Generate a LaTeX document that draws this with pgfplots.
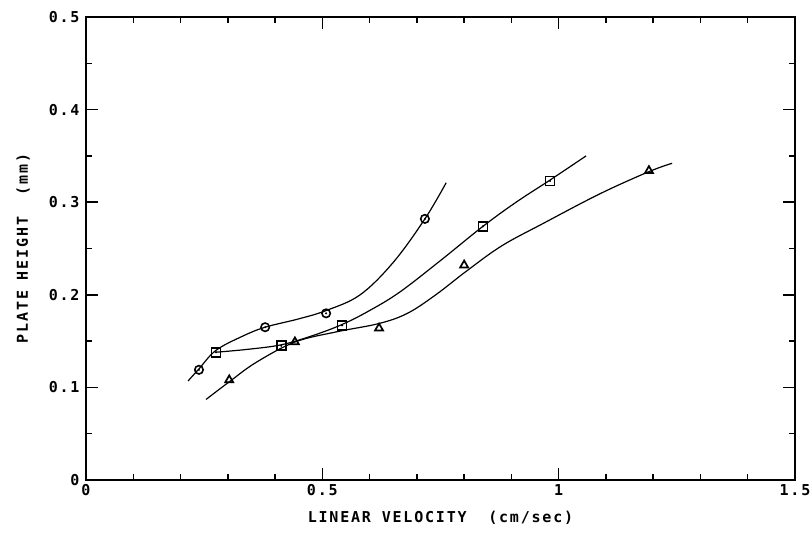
\documentclass[border=0pt]{standalone}
\usepackage{pgfplots}
\pgfplotsset{compat=1.18}
\usepackage{fontspec}
\setmainfont{DejaVu Sans Mono}[LetterSpace=12]
\begin{document}
\begin{tikzpicture}
\begin{axis}[
  name=ax,
  scale only axis,
  width=709pt, height=463pt,
  xmin=0, xmax=1.5, ymin=0, ymax=0.5,
  xtick={0,0.5,1,1.5}, ytick={0,0.1,0.2,0.3,0.4,0.5},
  xticklabels={0,0.5,1,1.5},
  yticklabels={0,0.1,0.2,0.3,0.4,0.5},
  minor x tick num=4, minor y tick num=1,
  tick align=inside,
  major tick length=12pt, minor tick length=6pt,
  tick style={black, line width=1.5pt},
  axis line style={line width=2pt},
  every tick label/.append style={font=\fontsize{15}{17}\bfseries},
  xticklabel style={yshift=-1pt},
  yticklabel style={xshift=-3pt},
  xlabel={LINEAR VELOCITY\ \ (cm/sec)},
  ylabel={PLATE HEIGHT\ \ (mm)},
  label style={font=\fontsize{15}{17}\bfseries},
  xlabel style={yshift=-8pt},
  ylabel style={yshift=12pt},
  clip=false,
]
% fitted curves
\addplot[black, line width=1.2pt, smooth, tension=0.6] coordinates {
(0.216,0.107)(0.239,0.120)(0.275,0.140)(0.33,0.155)(0.379,0.165)(0.45,0.174)(0.508,0.183)(0.58,0.200)(0.65,0.235)(0.717,0.282)(0.762,0.321)};
\addplot[black, line width=1.2pt, smooth, tension=0.6] coordinates {
(0.275,0.138)(0.34,0.141)(0.413,0.146)(0.48,0.156)(0.542,0.168)(0.60,0.183)(0.664,0.203)(0.75,0.237)(0.84,0.274)(0.91,0.300)(0.982,0.324)(1.058,0.350)};
\addplot[black, line width=1.2pt, smooth, tension=0.6] coordinates {
(0.254,0.087)(0.303,0.106)(0.36,0.127)(0.442,0.149)(0.53,0.160)(0.62,0.169)(0.68,0.180)(0.74,0.200)(0.806,0.226)(0.88,0.253)(0.967,0.277)(1.087,0.309)(1.191,0.333)(1.240,0.342)};
% data points
\addplot[only marks, mark=o, mark size=4.2pt, mark options={line width=1.6pt, fill=white}] coordinates {
(0.239,0.119)(0.379,0.165)(0.508,0.180)(0.717,0.282)};
\addplot[only marks, mark=*, mark size=0.8pt] coordinates {
(0.239,0.119)(0.379,0.165)(0.508,0.180)(0.717,0.282)};
\addplot[only marks, mark=square, mark size=4.5pt, mark options={line width=1.6pt, fill=white}] coordinates {
(0.275,0.138)(0.413,0.145)(0.542,0.167)(0.840,0.274)(0.982,0.323)};
\addplot[only marks, mark=*, mark size=0.8pt] coordinates {
(0.275,0.138)(0.413,0.145)(0.542,0.167)(0.840,0.274)(0.982,0.323)};
\addplot[only marks, mark=triangle, mark size=4.6pt, mark options={line width=1.7pt, fill=white}] coordinates {
(0.303,0.108)(0.442,0.149)(0.620,0.164)(0.800,0.232)(1.191,0.334)};
\end{axis}
\pgfresetboundingbox
\path[use as bounding box] ([xshift=-86pt,yshift=-58pt]ax.south west) rectangle ([xshift=16pt,yshift=17pt]ax.north east);
\end{tikzpicture}
\end{document}
